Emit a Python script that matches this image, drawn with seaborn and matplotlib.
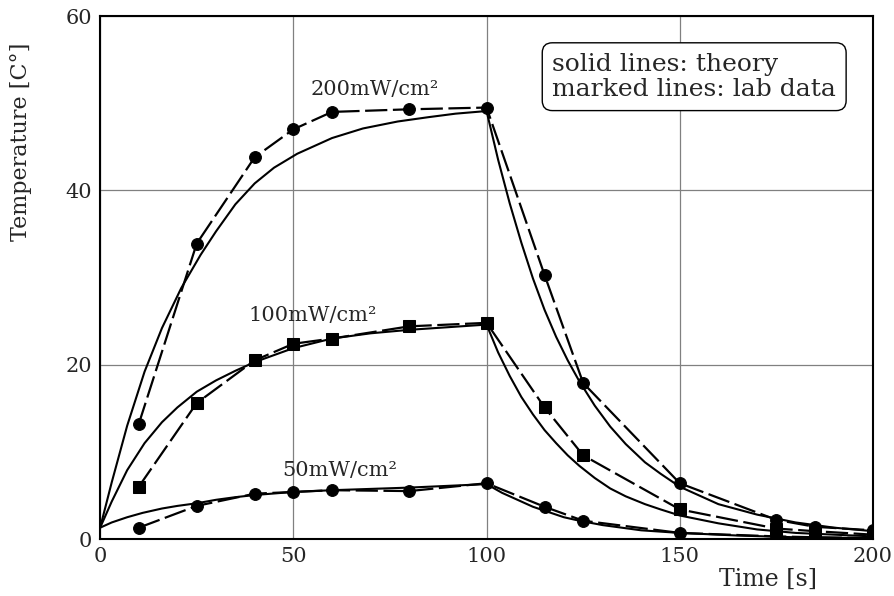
import pandas as pd
import seaborn as sns
import matplotlib.pyplot as plt

# lab data (marked lines), same time points for every power level
t_lab = [10, 25, 40, 50, 60, 80, 100, 115, 125, 150, 175, 185, 200]
lab_200 = [13.2, 33.9, 43.8, 47.0, 49.0, 49.3, 49.5, 30.3, 17.9, 6.4, 2.2, 1.4, 1.0]
lab_100 = [6.0, 15.6, 20.5, 22.4, 23.0, 24.4, 24.8, 15.1, 9.6, 3.4, 1.2, 0.9, 0.5]
lab_50 = [1.3, 3.8, 5.2, 5.4, 5.6, 5.5, 6.4, 3.7, 2.1, 0.7, 0.3, 0.2, 0.1]

# theory curves (solid lines)
t_th_200 = [0, 3, 7, 11.5, 16, 21, 26, 30, 35, 40, 45, 51, 60, 68, 77, 85, 92, 100,
            103, 106, 109, 112, 115, 118, 121, 124, 128, 132, 136, 141, 145, 150,
            160, 170, 180, 190, 200]
th_200 = [1.3, 6.5, 13.0, 19.2, 24.2, 28.8, 32.6, 35.3, 38.4, 40.8, 42.6, 44.2, 46.0, 47.1,
          47.9, 48.4, 48.8, 49.1,
          43.5, 38.5, 34.0, 29.9, 26.3, 23.2, 20.5, 18.1, 15.3, 12.9, 10.9, 8.8, 7.5, 6.0,
          4.0, 2.8, 1.9, 1.3, 0.9]

t_th_100 = [0, 3, 7, 11.5, 16, 20, 25, 30, 35, 40, 50, 60, 70, 80, 90, 100,
            103, 106, 109, 112, 115, 118, 121, 124, 128, 132, 136, 141, 145, 150,
            160, 170, 180, 190, 200]
th_100 = [1.3, 4.3, 7.9, 11.0, 13.4, 15.1, 16.9, 18.2, 19.3, 20.3, 21.9, 23.0, 23.6, 24.0,
          24.3, 24.6,
          21.4, 18.7, 16.3, 14.3, 12.5, 11.0, 9.6, 8.4, 7.0, 5.8, 4.9, 4.0, 3.4, 2.7,
          1.8, 1.1, 0.7, 0.5, 0.3]

t_th_50 = [0, 3, 7, 11, 16, 20, 25, 30, 35, 40, 50, 60, 70, 80, 90, 100,
           104, 108, 112, 116, 120, 124, 130, 140, 150, 165, 180, 200]
th_50 = [1.3, 1.9, 2.5, 3.0, 3.5, 3.8, 4.1, 4.5, 4.8, 5.05, 5.4, 5.6, 5.75, 5.9, 6.1, 6.3,
         5.3, 4.5, 3.7, 3.1, 2.5, 2.1, 1.6, 1.0, 0.7, 0.4, 0.2, 0.1]

labels = ["200mW/cm²", "100mW/cm²", "50mW/cm²"]
label_pos = [(71, 51.6), (55, 25.6), (62, 7.9)]

sns.set_theme(style="ticks")
plt.rcParams['font.family'] = ['DejaVu Serif']

fig = plt.figure(figsize=(8.94, 5.96), dpi=100)
ax = fig.add_axes([0.112, 0.0956, 0.8645, 0.8775])

lab = pd.DataFrame({"t": t_lab, "p200": lab_200, "p100": lab_100, "p50": lab_50})
dash = (0, (10, 2.5))
for col, mk in [("p200", "o"), ("p100", "s"), ("p50", "o")]:
    sns.lineplot(data=lab, x="t", y=col, ax=ax, color="black", linewidth=1.6,
                 linestyle=dash, marker=mk, markersize=8.5,
                 markeredgecolor="black", markerfacecolor="black")

for tt, yy in [(t_th_200, th_200), (t_th_100, th_100), (t_th_50, th_50)]:
    sns.lineplot(x=tt, y=yy, ax=ax, color="black", linewidth=1.5, sort=False)

for txt, (x, y) in zip(labels, label_pos):
    ax.text(x, y, txt, ha="center", va="center", fontsize=15)

ax.text(0.585, 0.884, "solid lines: theory\nmarked lines: lab data", transform=ax.transAxes,
        ha="left", va="center", multialignment="left", fontsize=18, linespacing=1.1,
        zorder=5,
        bbox=dict(boxstyle="round,pad=0.4,rounding_size=0.4", fc="white", ec="black", lw=1.0))

ax.set_xlim(0, 200)
ax.set_ylim(0, 60)
ax.set_xticks([0, 50, 100, 150, 200])
ax.set_yticks([0, 20, 40, 60])
ax.grid(True, color="#808080", linewidth=0.9)
ax.tick_params(length=0, labelsize=15, pad=6)
for s in ax.spines.values():
    s.set_color("black")
    s.set_linewidth(1.5)

ax.set_ylabel("Temperature [C°]", fontsize=16)
ax.yaxis.set_label_coords(-0.088, 0.76)
ax.set_xlabel("Time [s]", fontsize=17)
ax.xaxis.set_label_coords(0.864, -0.055)

fig.savefig("out.png", dpi=100)
